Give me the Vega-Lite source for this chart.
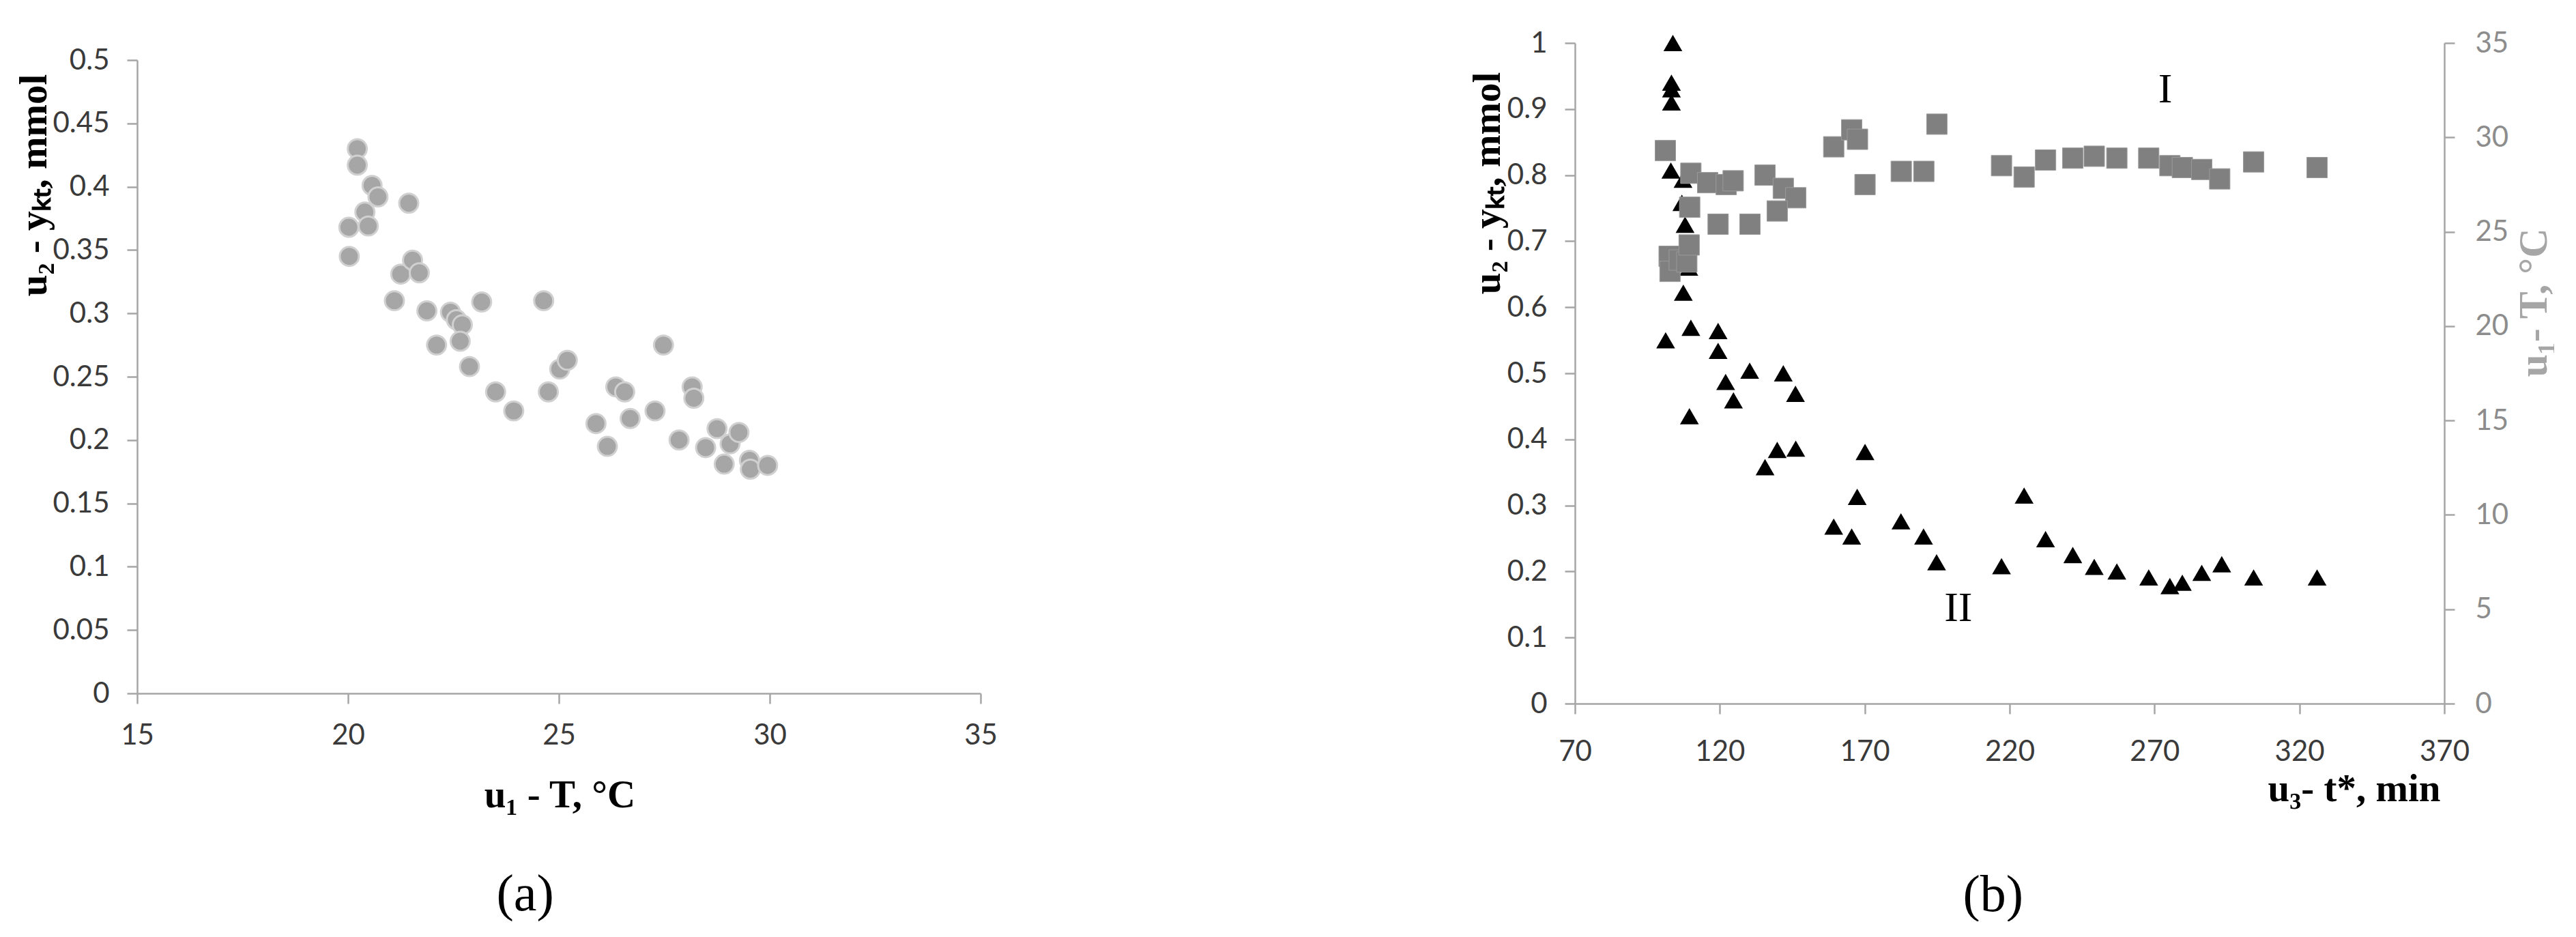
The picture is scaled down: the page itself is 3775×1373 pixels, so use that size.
{
  "$schema": "https://vega.github.io/schema/vega-lite/v6.json",
  "background": "white",
  "padding": {"left": 21, "top": 42, "right": 0, "bottom": 0},
  "spacing": 689,
  "config": {
    "view": {"stroke": null},
    "axis": {
      "grid": false,
      "domainColor": "#a6a6a6",
      "domainWidth": 2.5,
      "tickColor": "#a6a6a6",
      "tickWidth": 2.5,
      "tickSize": 15,
      "labelFont": "Lato",
      "labelFontSize": 42,
      "labelColor": "#3a3a3a",
      "labelPadding": 26,
      "labelFlush": false,
      "labelOverlap": false,
      "titleFont": "Liberation Serif",
      "titleFontSize": 57,
      "titleFontWeight": "bold",
      "titleColor": "#000000"
    }
  },
  "datasets": {
    "a": [
      {"T": 20.22, "y": 0.430}, {"T": 20.22, "y": 0.417}, {"T": 20.02, "y": 0.368}, {"T": 20.03, "y": 0.345},
      {"T": 20.57, "y": 0.401}, {"T": 20.71, "y": 0.392}, {"T": 20.40, "y": 0.380}, {"T": 20.48, "y": 0.369},
      {"T": 21.44, "y": 0.387}, {"T": 21.10, "y": 0.310}, {"T": 21.25, "y": 0.331}, {"T": 21.53, "y": 0.342},
      {"T": 21.69, "y": 0.332}, {"T": 21.87, "y": 0.302}, {"T": 22.10, "y": 0.275}, {"T": 22.43, "y": 0.301},
      {"T": 22.57, "y": 0.295}, {"T": 22.71, "y": 0.291}, {"T": 22.66, "y": 0.278}, {"T": 22.88, "y": 0.258},
      {"T": 23.17, "y": 0.309}, {"T": 23.50, "y": 0.238}, {"T": 23.93, "y": 0.223}, {"T": 24.64, "y": 0.310},
      {"T": 24.75, "y": 0.238}, {"T": 25.02, "y": 0.256}, {"T": 25.20, "y": 0.263}, {"T": 25.88, "y": 0.213},
      {"T": 26.15, "y": 0.195}, {"T": 26.35, "y": 0.242}, {"T": 26.56, "y": 0.238}, {"T": 26.69, "y": 0.217},
      {"T": 27.28, "y": 0.223}, {"T": 27.48, "y": 0.275}, {"T": 27.85, "y": 0.200}, {"T": 28.16, "y": 0.242},
      {"T": 28.20, "y": 0.233}, {"T": 28.48, "y": 0.194}, {"T": 28.75, "y": 0.209}, {"T": 28.92, "y": 0.181},
      {"T": 29.06, "y": 0.197}, {"T": 29.27, "y": 0.206}, {"T": 29.52, "y": 0.184}, {"T": 29.54, "y": 0.177},
      {"T": 29.95, "y": 0.180}
    ],
    "tri": [
      {"t": 103.8, "y": 1.0}, {"t": 103.3, "y": 0.94}, {"t": 103.3, "y": 0.93}, {"t": 103.3, "y": 0.91},
      {"t": 103.1, "y": 0.807}, {"t": 107.3, "y": 0.793}, {"t": 106.9, "y": 0.758}, {"t": 108.0, "y": 0.725},
      {"t": 109.3, "y": 0.66}, {"t": 107.4, "y": 0.622}, {"t": 101.3, "y": 0.55}, {"t": 110.0, "y": 0.569},
      {"t": 109.5, "y": 0.435}, {"t": 119.4, "y": 0.564}, {"t": 119.4, "y": 0.534}, {"t": 122.0, "y": 0.487},
      {"t": 124.7, "y": 0.459}, {"t": 130.3, "y": 0.504}, {"t": 135.6, "y": 0.358}, {"t": 139.8, "y": 0.384},
      {"t": 141.9, "y": 0.5}, {"t": 146.1, "y": 0.469}, {"t": 146.2, "y": 0.386}, {"t": 159.3, "y": 0.268},
      {"t": 165.5, "y": 0.253}, {"t": 167.4, "y": 0.313}, {"t": 170.1, "y": 0.381}, {"t": 182.5, "y": 0.276},
      {"t": 190.3, "y": 0.253}, {"t": 194.8, "y": 0.214}, {"t": 217.2, "y": 0.208}, {"t": 225.0, "y": 0.315},
      {"t": 232.4, "y": 0.249}, {"t": 241.8, "y": 0.225}, {"t": 249.2, "y": 0.207}, {"t": 257.0, "y": 0.2},
      {"t": 268.0, "y": 0.191}, {"t": 275.3, "y": 0.178}, {"t": 279.6, "y": 0.183}, {"t": 286.3, "y": 0.198},
      {"t": 293.2, "y": 0.211}, {"t": 304.2, "y": 0.191}, {"t": 326.1, "y": 0.191}
    ],
    "sq": [
      {"t": 101.2, "T": 29.3}, {"t": 110.0, "T": 28.1}, {"t": 115.8, "T": 27.6}, {"t": 122.2, "T": 27.5},
      {"t": 124.6, "T": 27.7}, {"t": 135.6, "T": 28.0}, {"t": 141.9, "T": 27.3}, {"t": 146.2, "T": 26.8},
      {"t": 109.6, "T": 26.3}, {"t": 119.4, "T": 25.4}, {"t": 130.4, "T": 25.4}, {"t": 139.8, "T": 26.1},
      {"t": 102.5, "T": 23.7}, {"t": 102.8, "T": 22.9}, {"t": 106.0, "T": 23.5}, {"t": 108.6, "T": 23.4},
      {"t": 109.4, "T": 24.3}, {"t": 159.3, "T": 29.5}, {"t": 165.5, "T": 30.4}, {"t": 167.5, "T": 29.9},
      {"t": 170.1, "T": 27.5}, {"t": 182.6, "T": 28.2}, {"t": 190.4, "T": 28.2}, {"t": 194.9, "T": 30.7},
      {"t": 217.2, "T": 28.5}, {"t": 225.0, "T": 27.9}, {"t": 232.4, "T": 28.8}, {"t": 241.8, "T": 28.9},
      {"t": 249.2, "T": 29.0}, {"t": 257.0, "T": 28.9}, {"t": 268.0, "T": 28.9}, {"t": 275.3, "T": 28.5},
      {"t": 279.6, "T": 28.4}, {"t": 286.3, "T": 28.3}, {"t": 292.5, "T": 27.8}, {"t": 304.2, "T": 28.7},
      {"t": 326.1, "T": 28.4}
    ]
  },
  "hconcat": [
    {
      "width": 1236,
      "height": 953,
      "layer": [
        {
          "data": {"name": "a"},
          "mark": {"type": "circle", "size": 780, "fill": "#a6a6a6", "stroke": "#d0d0d0", "strokeWidth": 3, "opacity": 1},
          "encoding": {
            "x": {"field": "T", "type": "quantitative",
                  "scale": {"domain": [15, 35], "nice": false, "zero": false},
                  "axis": {"values": [15, 20, 25, 30, 35], "format": "d", "title": "u₁ - T, °C",
                           "titleX": 619, "titleY": 149, "titleBaseline": "middle", "titleAlign": "center"}},
            "y": {"field": "y", "type": "quantitative",
                  "scale": {"domain": [0, 0.5], "nice": false, "range": [953, 25]},
                  "axis": {"values": [0, 0.05, 0.1, 0.15, 0.2, 0.25, 0.3, 0.35, 0.4, 0.45, 0.5], "format": "~g",
                           "title": "u₂ - yₖₜ, mmol", "titleX": -151, "titleY": 208, "titleAngle": 270,
                           "titleAlign": "center", "titleBaseline": "middle"}}
          }
        },
        {
          "data": {"values": [{"T": 24.2, "y": -0.159, "label": "(a)"}]},
          "mark": {"type": "text", "font": "Liberation Serif", "fontSize": 76, "color": "#000000", "baseline": "middle", "align": "center"},
          "encoding": {
            "x": {"field": "T", "type": "quantitative", "scale": {"domain": [15, 35], "nice": false, "zero": false}},
            "y": {"field": "y", "type": "quantitative", "scale": {"domain": [0, 0.5], "nice": false, "range": [953, 25]}},
            "text": {"field": "label"}
          }
        }
      ]
    },
    {
      "width": 1274,
      "height": 968,
      "layer": [
        {
          "layer": [
            {
              "data": {"name": "tri"},
              "mark": {"type": "point", "shape": "triangle-up", "filled": true, "size": 760, "color": "#000000", "opacity": 1},
              "encoding": {
                "x": {"field": "t", "type": "quantitative",
                      "scale": {"domain": [70, 370], "nice": false, "zero": false},
                      "axis": {"values": [70, 120, 170, 220, 270, 320, 370], "format": "d", "title": "u₃- t*, min", "labelPadding": 35,
                               "titleX": 1268, "titleY": 125, "titleAlign": "right", "titleBaseline": "middle"}},
                "y": {"field": "y", "type": "quantitative",
                      "scale": {"domain": [0, 1], "nice": false},
                      "axis": {"values": [0, 0.1, 0.2, 0.3, 0.4, 0.5, 0.6, 0.7, 0.8, 0.9, 1], "format": "~g",
                               "title": "u₂ - yₖₜ, mmol", "titleX": -128, "titleY": 205, "titleAngle": 270,
                               "titleAlign": "center", "titleBaseline": "middle"}}
              }
            },
            {
              "data": {"values": [{"t": 273.7, "y": 0.93, "label": "I"}, {"t": 202.3, "y": 0.145, "label": "II"}]},
              "mark": {"type": "text", "font": "Liberation Serif", "fontSize": 62, "color": "#000000", "baseline": "middle", "align": "center"},
              "encoding": {
                "x": {"field": "t", "type": "quantitative", "scale": {"domain": [70, 370], "nice": false, "zero": false}},
                "y": {"field": "y", "type": "quantitative", "scale": {"domain": [0, 1], "nice": false}},
                "text": {"field": "label"}
              }
            },
            {
              "data": {"values": [{"t": 214.3, "y": -0.29, "label": "(b)"}]},
              "mark": {"type": "text", "font": "Liberation Serif", "fontSize": 76, "color": "#000000", "baseline": "middle", "align": "center"},
              "encoding": {
                "x": {"field": "t", "type": "quantitative", "scale": {"domain": [70, 370], "nice": false, "zero": false}},
                "y": {"field": "y", "type": "quantitative", "scale": {"domain": [0, 1], "nice": false}},
                "text": {"field": "label"}
              }
            }
          ]
        },
        {
          "data": {"name": "sq"},
          "mark": {"type": "square", "size": 900, "color": "#808080", "stroke": "#9a9a9a", "strokeWidth": 1, "opacity": 1},
          "encoding": {
            "x": {"field": "t", "type": "quantitative", "scale": {"domain": [70, 370], "nice": false, "zero": false}},
            "y": {"field": "T", "type": "quantitative",
                  "scale": {"domain": [0, 35], "nice": false},
                  "axis": {"orient": "right", "values": [0, 5, 10, 15, 20, 25, 30, 35], "labelColor": "#8c8c8c",
                           "labelPadding": 30, "title": "u₁- T, °C", "titleColor": "#a6a6a6", "titleFontSize": 60,
                           "titleX": 131, "titleY": 380, "titleAngle": 270, "titleAlign": "center", "titleBaseline": "middle"}}
          }
        }
      ],
      "resolve": {"scale": {"y": "independent"}}
    }
  ]
}
